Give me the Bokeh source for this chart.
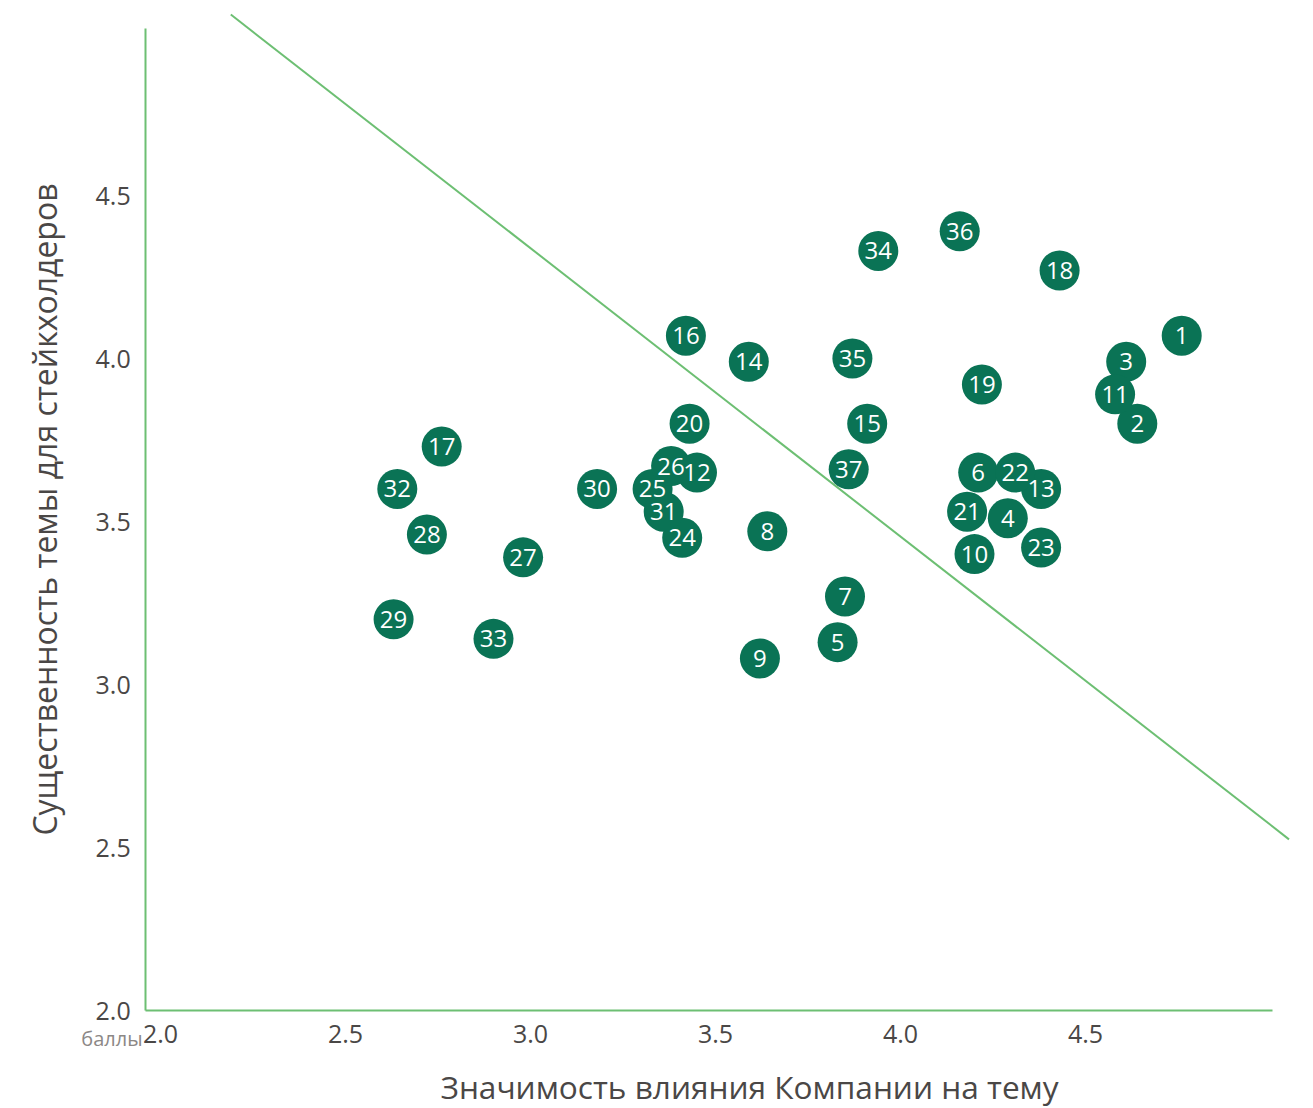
from bokeh.plotting import figure
from bokeh.models import Range1d, Label, FixedTicker, ColumnDataSource
from bokeh.core.properties import value
from bokeh.embed import file_html
from bokeh.resources import INLINE
import math

# Topic ids and scores
topic_ids = ["1", "2", "3", "4", "5", "6", "7", "8", "9", "10",
             "11", "12", "13", "14", "15", "16", "17", "18", "19", "20",
             "21", "22", "23", "24", "25", "26", "27", "28", "29", "30",
             "31", "32", "33", "34", "35", "36", "37"]
impact = [4.76, 4.64, 4.61, 4.29, 3.83, 4.21, 3.85, 3.64, 3.62, 4.20,
          4.58, 3.45, 4.38, 3.59, 3.91, 3.42, 2.76, 4.43, 4.22, 3.43,
          4.18, 4.31, 4.38, 3.41, 3.33, 3.38, 2.98, 2.72, 2.63, 3.18,
          3.36, 2.64, 2.90, 3.94, 3.87, 4.16, 3.86]
importance = [4.07, 3.80, 3.99, 3.51, 3.13, 3.65, 3.27, 3.47, 3.08, 3.40,
              3.89, 3.65, 3.60, 3.99, 3.80, 4.07, 3.73, 4.27, 3.92, 3.80,
              3.53, 3.65, 3.42, 3.45, 3.60, 3.67, 3.39, 3.46, 3.20, 3.60,
              3.53, 3.60, 3.14, 4.33, 4.00, 4.39, 3.66]

# Threshold line end points
threshold_x = [2.19, 5.05]
threshold_y = [5.055, 2.525]

ticks = [2.0, 2.5, 3.0, 3.5, 4.0, 4.5]
tick_labels = {t: f"{t:.1f}" for t in ticks}

x_title = "Значимость влияния Компании на тему"
y_title = "Существенность темы для стейкхолдеров"
unit_label = "баллы"

FONT = "Open Sans"
TXT = "#4a4746"
GREEN_LINE = "#6dbf73"
DOT = "#0a7355"

p = figure(width=1313, height=1108,
           x_range=Range1d(1.5676, 5.1162), y_range=Range1d(1.6994, 5.0982),
           output_backend="svg", toolbar_location=None,
           min_border_left=0, min_border_right=0,
           min_border_top=0, min_border_bottom=0)
p.outline_line_color = None
p.grid.visible = False
p.background_fill_color = "white"

for ax in (p.xaxis[0], p.yaxis[0]):
    ax.ticker = FixedTicker(ticks=ticks)
    ax.major_label_overrides = tick_labels
    ax.major_tick_line_color = None
    ax.minor_tick_line_color = None
    ax.axis_line_color = GREEN_LINE
    ax.axis_line_width = 2
    ax.major_label_text_font = FONT
    ax.major_label_text_font_size = "25px"
    ax.major_label_text_color = TXT

p.xaxis[0].fixed_location = 2.0
p.yaxis[0].fixed_location = 1.96
p.xaxis[0].bounds = (1.96, 5.005)
p.yaxis[0].bounds = (2.0, 5.012)
p.xaxis[0].major_label_standoff = 8
p.yaxis[0].major_label_standoff = 9

p.line(threshold_x, threshold_y, line_color=GREEN_LINE, line_width=2)

src = ColumnDataSource(dict(x=impact, y=importance, t=topic_ids))
p.scatter("x", "y", source=src, size=40, marker="circle",
          fill_color=DOT, line_color=None)
p.text("x", "y", text="t", source=src, text_align="center",
       text_baseline="middle", text_color="white",
       text_font=value(FONT), text_font_size="24px")

p.add_layout(Label(x=3.592, y=1.7669, text=x_title,
                   text_align="center", text_baseline="middle",
                   text_font=FONT, text_font_size="31.6px", text_color=TXT))
p.add_layout(Label(x=1.6865, y=3.5368, text=y_title,
                   angle=math.pi / 2, text_align="center", text_baseline="middle",
                   text_font=FONT, text_font_size="32px", text_color=TXT))
p.add_layout(Label(x=1.9514, y=1.914, text=unit_label,
                   text_align="right", text_baseline="middle",
                   text_font=FONT, text_font_size="20px", text_color="#8c8886"))

open("out.html", "w").write(file_html(p, INLINE))
